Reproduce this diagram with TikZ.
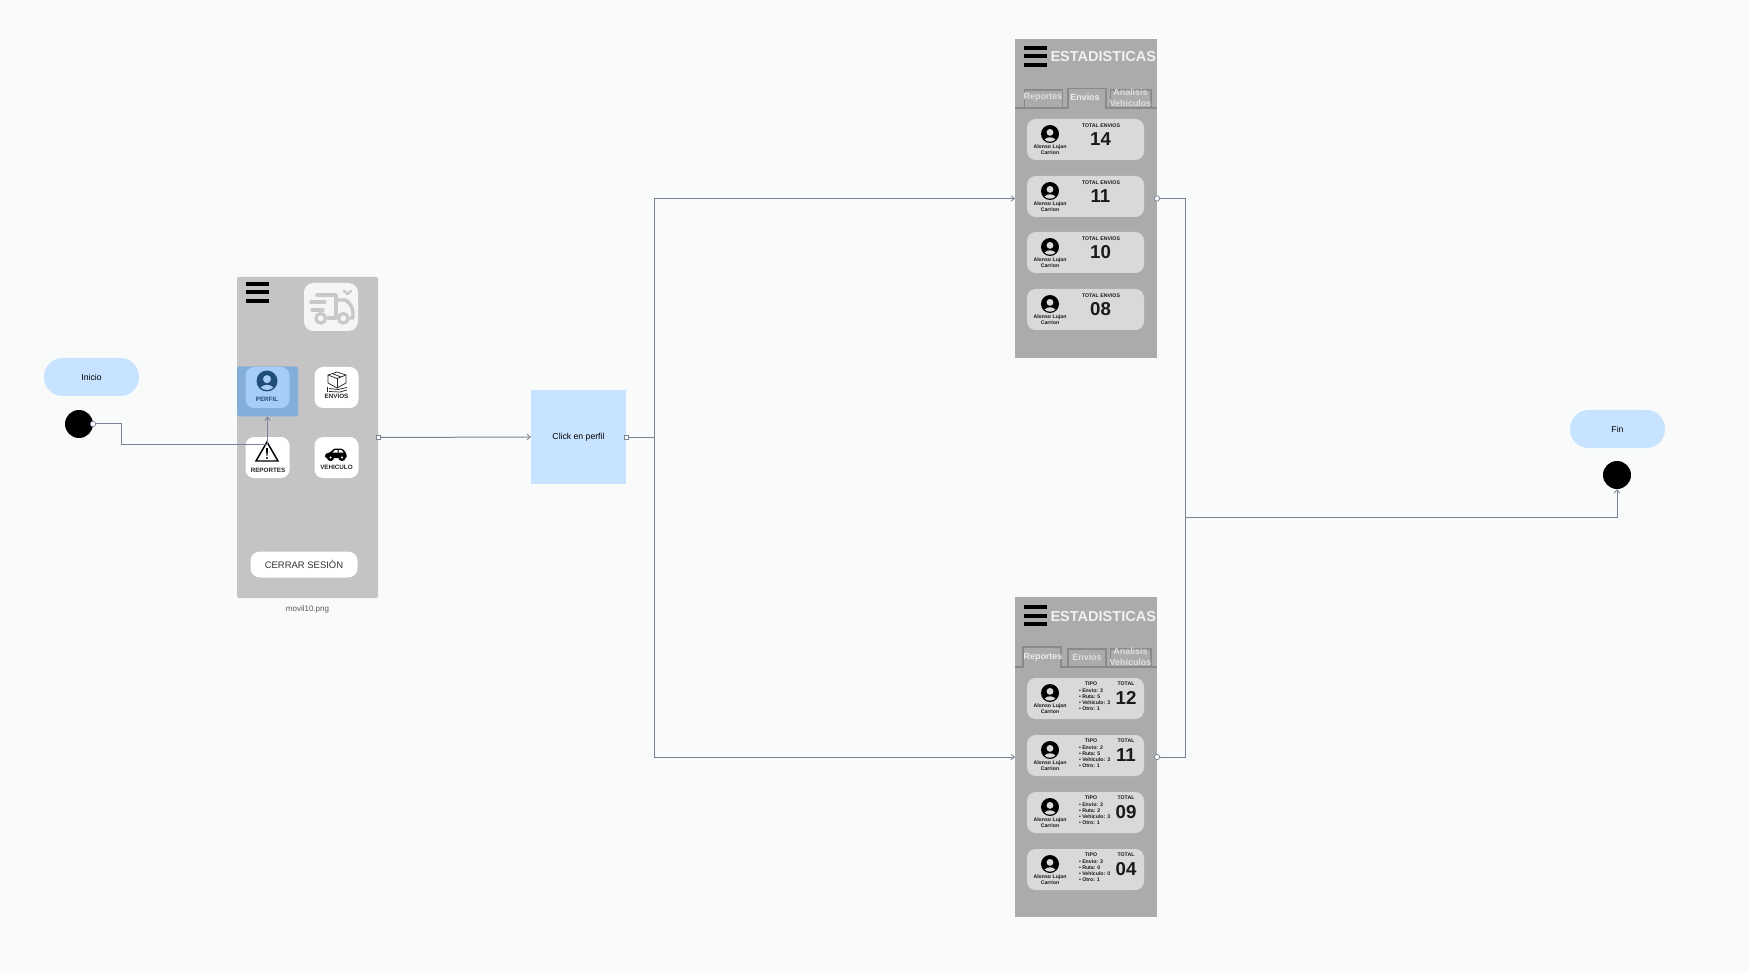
\documentclass[tikz,border=0pt]{standalone}
\usepackage{fontspec}
\setmainfont{Liberation Sans}
\usetikzlibrary{arrows.meta}
\definecolor{bgc}{HTML}{F9FBFB}
\definecolor{phonea}{HTML}{C4C4C4}
\definecolor{phoneb}{HTML}{ABABAB}
\definecolor{cardc}{HTML}{D9D9D9}
\definecolor{lightblue}{HTML}{C7E3FF}
\definecolor{hlc}{HTML}{84AEDA}
\definecolor{perfc}{HTML}{A5CDF6}
\definecolor{darkblue}{HTML}{1F4E79}
\definecolor{linec}{HTML}{7A8294}
\definecolor{truckc}{HTML}{C8C8C8}
\definecolor{tabc}{HTML}{8A8A8A}
\definecolor{tabtext}{HTML}{DEDEDE}
\newcommand\pf[1]{\fontsize{#1}{#1}\selectfont}
\tikzset{
  x=0.75pt,y=-0.75pt,
  wh/.style 2 args={minimum width=#1*0.75pt,minimum height=#2*0.75pt,inner sep=0pt,outer sep=0pt},
  pill/.style={fill=lightblue,rounded corners=14pt,wh={95}{38},font=\pf{6.5}},
  dot/.style={circle,fill=black,wh={28}{28}},
  iconbtn/.style={fill=white,rounded corners=6.5pt,wh={44}{41}},
  conn/.style={draw=linec,line width=0.75pt,line join=miter},
  arr/.style={-{Straight Barb[length=2.6pt,width=4.2pt,line width=.6pt]}},
  portc/.style={circle,draw=linec,fill=white,line width=.55pt,minimum size=4pt,inner sep=0pt},
  ports/.style={rectangle,draw=linec,fill=white,line width=.55pt,minimum size=3.2pt,inner sep=0pt},
  lbl/.style={inner sep=0pt,outer sep=0pt,align=center},
  btn/.style={lbl,font=\pf{4.7}\bfseries,text=black!85},
  bar/.style={fill=black},
  tabb/.style={draw=tabc,fill=phoneb,line width=.8pt},
  tabt/.style={lbl,font=\pf{6.7}\bfseries,text=#1},
  cardn/.style={fill=cardc,rounded corners=6.5pt,wh={117}{41}},
  tiny/.style={lbl,font=\pf{3.9}\bfseries,text=black!90},
  bignum/.style={lbl,font=\pf{14}\bfseries,text=black!90},
}
% person icon: x, y, radius, ring colour, inner colour
\newcommand\personicon[5]{%
  \fill[#4] (#1,#2) circle[radius=#3*0.75pt];
  \fill[#5] ({#1},{#2-0.18*#3}) circle[radius=#3*0.75pt*0.38];
  \begin{scope}
    \clip (#1,#2) circle[radius=#3*0.75pt*0.86];
    \fill[#5] ({#1},{#2+0.95*#3}) ellipse[x radius=#3*0.75pt*0.72,y radius=#3*0.75pt*0.58];
  \end{scope}}
% hamburger: left x, top bar y
\newcommand\burger[2]{%
  \fill[bar] (#1,#2) rectangle ++(23,4);
  \fill[bar] (#1,{#2+8.5}) rectangle ++(23,4);
  \fill[bar] (#1,{#2+17}) rectangle ++(23,4);}
% envios card: id, top, number
\newcommand\cardA[3]{%
  \node[cardn] (#1) at (1085.5,{#2+20.5}) {};
  \personicon{1050}{#2+15}{9}{black}{cardc}
  \node[tiny] (#1n) at (1050,{#2+31}) {Alonso Lujan\\[0.6pt]Carrion};
  \node[tiny] (#1t) at (1101,{#2+7}) {TOTAL ENVIOS};
  \node[bignum] (#1v) at (1100.5,{#2+20}) {#3};}
% reportes card: id, top, number, envio, ruta, vehiculo
\newcommand\cardB[6]{%
  \node[cardn] (#1) at (1085.5,{#2+20.5}) {};
  \personicon{1050}{#2+15}{9}{black}{cardc}
  \node[tiny] (#1n) at (1050,{#2+31}) {Alonso Lujan\\[0.6pt]Carrion};
  \node[tiny] (#1t) at (1091,{#2+6}) {TIPO};
  \node[tiny] (#1s) at (1126,{#2+6}) {TOTAL};
  \node[tiny,anchor=west] (#1a) at (1079,{#2+13}) {• Envio: #4};
  \node[tiny,anchor=west] (#1b) at (1079,{#2+19}) {• Ruta: #5};
  \node[tiny,anchor=west] (#1c) at (1079,{#2+25}) {• Vehiculo: #6};
  \node[tiny,anchor=west] (#1d) at (1079,{#2+31}) {• Otro: 1};
  \node[bignum] (#1v) at (1126,{#2+20}) {#3};}
% stats phone top part: id, selected tab (1 or 2)
\newcommand\statshead[2]{%
  \burger{1024}{46}
  \node[lbl,anchor=west,font=\pf{10.9}\bfseries,text=white!94!black] (#1title) at (1050.5,57) {ESTADISTICAS};
  \ifnum#2=1
    \draw[tabb] (1068,108) rectangle (1106,90);
    \draw[tabb] (1110.5,108) rectangle (1151,90);
    \draw[tabb] (1015,108) -- (1023,108) -- (1023,88) -- (1061,88) -- (1061,108) -- (1068,108);
    \draw[tabb] (1106,108) -- (1157,108);
    \node[tabt=white!93!black] (#1t1) at (1043,98) {Reportes};
    \node[tabt=tabtext] (#1t2) at (1087,98) {Envios};
  \else
    \draw[tabb] (1024.5,108) rectangle (1062.5,90);
    \draw[tabb] (1110.5,108) rectangle (1151,90);
    \draw[tabb] (1015,108) -- (1024,108);
    \draw[tabb] (1068,108) -- (1068,88.5) -- (1106,88.5) -- (1106,108) -- (1157,108);
    \draw[tabb] (1062.5,108) -- (1068,108);
    \node[tabt=tabtext] (#1t1) at (1043,97) {Reportes};
    \node[tabt=white!93!black] (#1t2) at (1085,97) {Envios};
  \fi
  \node[tabt=tabtext] (#1t3) at (1130.5,98) {Analisis\\[1.2pt]Vehiculos};}
\begin{document}
\begin{tikzpicture}
\useasboundingbox[fill=bgc] (0,0) rectangle (1749,973);

% start
\node[pill] (inicio) at (91.5,377) {Inicio};
\node[dot] (startc) at (79,424) {};

% phone 1
\node[fill=phonea,rounded corners=1pt,wh={141}{321}] (phone1) at (307.5,437.5) {};
\burger{246}{282}
\node[fill=hlc,rounded corners=1.5pt,wh={61}{50}] (hl) at (267.5,391.5) {};
\node[fill=perfc,rounded corners=6.5pt,wh={44}{41}] (perfil) at (267.5,387.5) {};
\personicon{267}{381}{10.5}{darkblue}{perfc}
\node[btn,text=darkblue] (perfilt) at (267,399) {PERFIL};

\node[fill=white!96!black,rounded corners=7pt,wh={54}{48}] (logo) at (331,307) {};
% truck
\begin{scope}[line cap=round,line join=round]
  \draw[truckc,line width=2.6pt] (317,295) -- (336,295) -- (336,318) -- (328,318);
  \draw[truckc,line width=2.6pt] (336,300) -- (345,300) .. controls (350,302) and (353,308) .. (353,314) -- (353,318) -- (350,318);
  \draw[truckc,line width=2.6pt] (311,302) -- (325,302);
  \draw[truckc,line width=2.6pt] (312,310) -- (323,310);
  \draw[truckc,line width=2.4pt] (320.7,318.3) circle[radius=3.6pt];
  \draw[truckc,line width=2.4pt] (343.3,318.3) circle[radius=3.6pt];
  \draw[truckc,line width=1.8pt] (344,291) -- (347.5,294) -- (351,291);
\end{scope}

\node[iconbtn] (envios) at (336.5,387.5) {};
\begin{scope}[draw=black!85,line width=.55pt,line join=round]
  \draw (328,375) -- (337,372) -- (346,375) -- (337,378.5) -- cycle;
  \draw (328,375) -- (328,383) -- (337,388) -- (346,383) -- (346,375);
  \draw (337,378.5) -- (337,388);
  \draw (332,373.5) -- (341,377);
  \draw (327,387) -- (327,392);
  \draw (329,388.5) -- (338,389.5) -- (347,387.5);
  \draw (329,391.5) -- (340,392) -- (347,390);
\end{scope}
\node[btn] (enviost) at (336.5,396.5) {ENVIOS};

\node[iconbtn] (reportes) at (267.5,457.5) {};
\draw[black,line width=1.1pt,line join=miter] (267,442) -- (278,461) -- (256,461) -- cycle;
\fill[black] (266,448) -- (268,448) -- (267.6,455.5) -- (266.4,455.5) -- cycle;
\fill[black] (267,458) circle[radius=.8pt];
\node[btn] (reportest) at (268,470) {REPORTES};

\node[iconbtn] (vehiculo) at (336.5,457.5) {};
\fill[black,rounded corners=1pt] (325,458) -- (325,454) -- (330,452.5) -- (334,448.5) -- (342,448.5) -- (346,452.5) -- (347,458) -- cycle;
\fill[black] (330.5,457.5) circle[radius=2.7pt];
\fill[black] (342,457.5) circle[radius=2.7pt];
\fill[white] (330.5,457.5) circle[radius=.9pt];
\fill[white] (342,457.5) circle[radius=.9pt];
\fill[white] (335,450) -- (337.5,450) -- (337.5,452.5) -- (332.5,452.5) -- cycle;
\fill[white] (338.5,450) -- (341.5,450) -- (343.5,452.5) -- (338.5,452.5) -- cycle;
\node[btn] (vehiculot) at (336.5,467.5) {VEHICULO};

\node[fill=white,rounded corners=7pt,wh={107}{26},font=\pf{7.1},text=black!80] (cerrar) at (304,564.5) {CERRAR SESIÓN};
\node[lbl,font=\pf{6},text=black!65] (fname) at (307.5,609.5) {movil10.png};

% click box
\node[fill=lightblue,wh={95}{94},font=\pf{6.5}] (click) at (578.5,437) {Click en perfil};

% stats phones
\node[fill=phoneb,wh={142}{319}] (stats1) at (1086,198.5) {};
\statshead{s}{2}
\cardA{a1}{119}{14}
\cardA{a2}{176}{11}
\cardA{a3}{232}{10}
\cardA{a4}{289}{08}

\node[fill=phoneb,wh={142}{320}] (stats2) at (1086,757) {};
\begin{scope}[shift={(0,559)}]
\statshead{r}{1}
\cardB{b1}{119}{12}{3}{5}{3}
\cardB{b2}{176}{11}{2}{5}{3}
\cardB{b3}{233}{09}{3}{2}{3}
\cardB{b4}{290}{04}{3}{0}{0}
\end{scope}

% end
\node[pill] (fin) at (1617.5,429) {Fin};
\node[dot] (endc) at (1617,475) {};

% connector helpers
\coordinate (turn1) at (121,444.5);
\coordinate (split) at (654,437);
\coordinate (merge) at (1185,517);

% connectors
\draw[conn,arr] (startc.east) -| (turn1) -| (hl.south);
\draw[conn,arr] (phone1.east) -- (click.west);
\draw[conn] (click.east) -- (split);
\draw[conn,arr] (split) |- (stats1.west);
\draw[conn,arr] (split) |- (stats2.west);
\draw[conn] (stats1.east) -| (merge);
\draw[conn] (stats2.east) -| (merge);
\draw[conn,arr] (merge) -| (endc.south);

% ports
\node[portc] (p1) at (startc.east) {};
\node[ports] (p2) at (phone1.east) {};
\node[ports] (p3) at (click.east) {};
\node[portc] (p4) at (stats1.east) {};
\node[portc] (p5) at (stats2.east) {};
\end{tikzpicture}
\end{document}
